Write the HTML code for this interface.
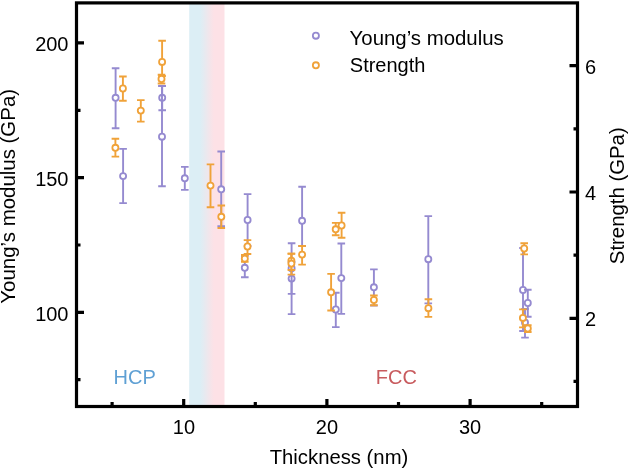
<!DOCTYPE html>
<html><head><meta charset="utf-8"><style>
html,body{margin:0;padding:0;background:#fff;}
body{width:628px;height:469px;overflow:hidden;font-family:"Liberation Sans",sans-serif;}
svg{display:block;will-change:transform;}
</style></head><body>
<svg width="628" height="469" viewBox="0 0 628 469">
<defs><linearGradient id="g" x1="0" x2="1" y1="0" y2="0">
<stop offset="0" stop-color="#dceef5"/><stop offset="0.31" stop-color="#dceef5"/>
<stop offset="0.70" stop-color="#fde1e6"/><stop offset="1" stop-color="#fde1e6"/></linearGradient></defs>
<rect x="189.2" y="2.9" width="35.3" height="403.6" fill="url(#g)"/>
<path d="M111.8 68.3H119.4M115.6 68.3V128.2M111.8 128.2H119.4" stroke="#958ad0" stroke-width="1.9" fill="none"/>
<circle cx="115.6" cy="97.8" r="3.05" stroke="#958ad0" stroke-width="1.8" fill="#fff"/>
<path d="M119.3 148.9H126.9M123.1 148.9V203.1M119.3 203.1H126.9" stroke="#958ad0" stroke-width="1.9" fill="none"/>
<circle cx="123.1" cy="176.1" r="3.05" stroke="#958ad0" stroke-width="1.8" fill="#fff"/>
<path d="M158.4 86.0H166.0M162.2 86.0V110.2M158.4 110.2H166.0" stroke="#958ad0" stroke-width="1.9" fill="none"/>
<circle cx="162.2" cy="97.8" r="3.05" stroke="#958ad0" stroke-width="1.8" fill="#fff"/>
<path d="M158.2 86.0H165.8M162.0 86.0V186.2M158.2 186.2H165.8" stroke="#958ad0" stroke-width="1.9" fill="none"/>
<circle cx="162.0" cy="136.7" r="3.05" stroke="#958ad0" stroke-width="1.8" fill="#fff"/>
<path d="M181.0 166.9H188.6M184.8 166.9V189.9M181.0 189.9H188.6" stroke="#958ad0" stroke-width="1.9" fill="none"/>
<circle cx="184.8" cy="178.3" r="3.05" stroke="#958ad0" stroke-width="1.8" fill="#fff"/>
<path d="M217.4 151.5H225.0M221.2 151.5V226.2M217.4 226.2H225.0" stroke="#958ad0" stroke-width="1.9" fill="none"/>
<circle cx="221.2" cy="189.3" r="3.05" stroke="#958ad0" stroke-width="1.8" fill="#fff"/>
<path d="M243.8 194.1H251.4M247.6 194.1V246.0M243.8 246.0H251.4" stroke="#958ad0" stroke-width="1.9" fill="none"/>
<circle cx="247.6" cy="220.0" r="3.05" stroke="#958ad0" stroke-width="1.8" fill="#fff"/>
<path d="M241.0 256.0H248.6M244.8 256.0V277.3M241.0 277.3H248.6" stroke="#958ad0" stroke-width="1.9" fill="none"/>
<circle cx="244.8" cy="267.8" r="3.05" stroke="#958ad0" stroke-width="1.8" fill="#fff"/>
<path d="M298.3 186.7H305.9M302.1 186.7V246.0M298.3 246.0H305.9" stroke="#958ad0" stroke-width="1.9" fill="none"/>
<circle cx="302.1" cy="220.8" r="3.05" stroke="#958ad0" stroke-width="1.8" fill="#fff"/>
<path d="M287.8 262.0H295.4M291.6 262.0V314.1M287.8 314.1H295.4" stroke="#958ad0" stroke-width="1.9" fill="none"/>
<circle cx="291.6" cy="278.6" r="3.05" stroke="#958ad0" stroke-width="1.8" fill="#fff"/>
<path d="M287.8 243.2H295.4M291.6 243.2V293.9M287.8 293.9H295.4" stroke="#958ad0" stroke-width="1.9" fill="none"/>
<circle cx="291.6" cy="268.3" r="3.05" stroke="#958ad0" stroke-width="1.8" fill="#fff"/>
<path d="M337.5 243.5H345.1M341.3 243.5V313.9M337.5 313.9H345.1" stroke="#958ad0" stroke-width="1.9" fill="none"/>
<circle cx="341.3" cy="278.1" r="3.05" stroke="#958ad0" stroke-width="1.8" fill="#fff"/>
<path d="M332.0 292.7H339.6M335.8 292.7V327.1M332.0 327.1H339.6" stroke="#958ad0" stroke-width="1.9" fill="none"/>
<circle cx="335.8" cy="309.5" r="3.05" stroke="#958ad0" stroke-width="1.8" fill="#fff"/>
<path d="M370.1 269.4H377.7M373.9 269.4V305.5M370.1 305.5H377.7" stroke="#958ad0" stroke-width="1.9" fill="none"/>
<circle cx="373.9" cy="287.3" r="3.05" stroke="#958ad0" stroke-width="1.8" fill="#fff"/>
<path d="M424.5 216.1H432.1M428.3 216.1V303.4M424.5 303.4H432.1" stroke="#958ad0" stroke-width="1.9" fill="none"/>
<circle cx="428.3" cy="259.2" r="3.05" stroke="#958ad0" stroke-width="1.8" fill="#fff"/>
<path d="M519.2 248.0H526.8M523.0 248.0V331.0M519.2 331.0H526.8" stroke="#958ad0" stroke-width="1.9" fill="none"/>
<circle cx="523.0" cy="290.0" r="3.05" stroke="#958ad0" stroke-width="1.8" fill="#fff"/>
<path d="M524.0 289.8H531.6M527.8 289.8V316.8M524.0 316.8H531.6" stroke="#958ad0" stroke-width="1.9" fill="none"/>
<circle cx="527.8" cy="303.0" r="3.05" stroke="#958ad0" stroke-width="1.8" fill="#fff"/>
<path d="M521.2 309.0H528.8M525.0 309.0V337.6M521.2 337.6H528.8" stroke="#958ad0" stroke-width="1.9" fill="none"/>
<circle cx="525.0" cy="322.5" r="3.05" stroke="#958ad0" stroke-width="1.8" fill="#fff"/>
<path d="M119.1 76.5H126.7M122.9 76.5V100.7M119.1 100.7H126.7" stroke="#f0a239" stroke-width="1.9" fill="none"/>
<circle cx="122.9" cy="88.5" r="3.05" stroke="#f0a239" stroke-width="1.8" fill="#fff"/>
<path d="M137.0 100.1H144.6M140.8 100.1V121.6M137.0 121.6H144.6" stroke="#f0a239" stroke-width="1.9" fill="none"/>
<circle cx="140.8" cy="110.6" r="3.05" stroke="#f0a239" stroke-width="1.8" fill="#fff"/>
<path d="M111.6 138.7H119.2M115.4 138.7V156.6M111.6 156.6H119.2" stroke="#f0a239" stroke-width="1.9" fill="none"/>
<circle cx="115.4" cy="147.8" r="3.05" stroke="#f0a239" stroke-width="1.8" fill="#fff"/>
<path d="M158.3 40.8H165.9M162.1 40.8V76.0M158.3 76.0H165.9" stroke="#f0a239" stroke-width="1.9" fill="none"/>
<circle cx="162.1" cy="61.9" r="3.05" stroke="#f0a239" stroke-width="1.8" fill="#fff"/>
<path d="M157.7 74.7H165.3M161.5 74.7V83.5M157.7 83.5H165.3" stroke="#f0a239" stroke-width="1.9" fill="none"/>
<circle cx="161.5" cy="79.0" r="3.05" stroke="#f0a239" stroke-width="1.8" fill="#fff"/>
<path d="M206.7 164.4H214.3M210.5 164.4V207.3M206.7 207.3H214.3" stroke="#f0a239" stroke-width="1.9" fill="none"/>
<circle cx="210.5" cy="185.6" r="3.05" stroke="#f0a239" stroke-width="1.8" fill="#fff"/>
<path d="M217.5 205.5H225.1M221.3 205.5V228.0M217.5 228.0H225.1" stroke="#f0a239" stroke-width="1.9" fill="none"/>
<circle cx="221.3" cy="216.8" r="3.05" stroke="#f0a239" stroke-width="1.8" fill="#fff"/>
<path d="M243.7 240.1H251.3M247.5 240.1V254.0M243.7 254.0H251.3" stroke="#f0a239" stroke-width="1.9" fill="none"/>
<circle cx="247.5" cy="246.5" r="3.05" stroke="#f0a239" stroke-width="1.8" fill="#fff"/>
<path d="M241.0 255.0H248.6M244.8 255.0V261.9M241.0 261.9H248.6" stroke="#f0a239" stroke-width="1.9" fill="none"/>
<circle cx="244.8" cy="258.7" r="3.05" stroke="#f0a239" stroke-width="1.8" fill="#fff"/>
<path d="M298.3 246.0H305.9M302.1 246.0V264.6M298.3 264.6H305.9" stroke="#f0a239" stroke-width="1.9" fill="none"/>
<circle cx="302.1" cy="254.6" r="3.05" stroke="#f0a239" stroke-width="1.8" fill="#fff"/>
<path d="M287.6 253.6H295.2M291.4 253.6V270.0M287.6 270.0H295.2" stroke="#f0a239" stroke-width="1.9" fill="none"/>
<circle cx="291.4" cy="260.6" r="3.05" stroke="#f0a239" stroke-width="1.8" fill="#fff"/>
<path d="M287.6 253.8H295.2M291.4 253.8V274.6M287.6 274.6H295.2" stroke="#f0a239" stroke-width="1.9" fill="none"/>
<circle cx="291.4" cy="263.6" r="3.05" stroke="#f0a239" stroke-width="1.8" fill="#fff"/>
<path d="M337.8 212.8H345.4M341.6 212.8V237.8M337.8 237.8H345.4" stroke="#f0a239" stroke-width="1.9" fill="none"/>
<circle cx="341.6" cy="225.5" r="3.05" stroke="#f0a239" stroke-width="1.8" fill="#fff"/>
<path d="M331.9 222.9H339.5M335.7 222.9V235.3M331.9 235.3H339.5" stroke="#f0a239" stroke-width="1.9" fill="none"/>
<circle cx="335.7" cy="229.3" r="3.05" stroke="#f0a239" stroke-width="1.8" fill="#fff"/>
<path d="M327.3 273.9H334.9M331.1 273.9V310.5M327.3 310.5H334.9" stroke="#f0a239" stroke-width="1.9" fill="none"/>
<circle cx="331.1" cy="292.3" r="3.05" stroke="#f0a239" stroke-width="1.8" fill="#fff"/>
<path d="M370.1 295.5H377.7M373.9 295.5V305.2M370.1 305.2H377.7" stroke="#f0a239" stroke-width="1.9" fill="none"/>
<circle cx="373.9" cy="300.0" r="3.05" stroke="#f0a239" stroke-width="1.8" fill="#fff"/>
<path d="M424.6 299.3H432.2M428.4 299.3V316.9M424.6 316.9H432.2" stroke="#f0a239" stroke-width="1.9" fill="none"/>
<circle cx="428.4" cy="308.2" r="3.05" stroke="#f0a239" stroke-width="1.8" fill="#fff"/>
<path d="M520.4 243.3H528.0M524.2 243.3V254.4M520.4 254.4H528.0" stroke="#f0a239" stroke-width="1.9" fill="none"/>
<circle cx="524.2" cy="248.5" r="3.05" stroke="#f0a239" stroke-width="1.8" fill="#fff"/>
<path d="M519.1 309.4H526.7M522.9 309.4V327.4M519.1 327.4H526.7" stroke="#f0a239" stroke-width="1.9" fill="none"/>
<circle cx="522.9" cy="317.9" r="3.05" stroke="#f0a239" stroke-width="1.8" fill="#fff"/>
<path d="M524.0 325.2H531.6M527.8 325.2V332.0M524.0 332.0H531.6" stroke="#f0a239" stroke-width="1.9" fill="none"/>
<circle cx="527.8" cy="328.5" r="3.05" stroke="#f0a239" stroke-width="1.8" fill="#fff"/>
<rect x="76.5" y="2.9" width="501.0" height="403.6" fill="none" stroke="#000" stroke-width="3.2"/>
<path d="M183.7 406.5V399.0 M326.9 406.5V399.0 M470.1 406.5V399.0 M112.1 406.5V402.0 M255.3 406.5V402.0 M398.5 406.5V402.0 M541.7 406.5V402.0 M76.5 312.3H84.0 M76.5 177.6H84.0 M76.5 42.9H84.0 M76.5 379.6H80.5 M76.5 245.0H80.5 M76.5 110.3H80.5 M577.5 318.3H569.5 M577.5 192.0H569.5 M577.5 65.7H569.5 M577.5 381.4H573.5 M577.5 255.2H573.5 M577.5 128.9H573.5" stroke="#000" stroke-width="3.2" fill="none"/>
<circle cx="315.9" cy="35.7" r="3.05" stroke="#958ad0" stroke-width="1.8" fill="#fff"/>
<circle cx="315.9" cy="65.3" r="3.05" stroke="#f0a239" stroke-width="1.8" fill="#fff"/>
<g font-family="Liberation Sans, sans-serif" font-size="20" fill="#000">
<text x="68.5" y="51.2" text-anchor="end">200</text>
<text x="68.5" y="186.1" text-anchor="end">150</text>
<text x="68.5" y="320.6" text-anchor="end">100</text>
<text x="183.9" y="433.9" text-anchor="middle">10</text>
<text x="326.9" y="433.9" text-anchor="middle">20</text>
<text x="470.0" y="433.9" text-anchor="middle">30</text>
<text x="585" y="73.8">6</text>
<text x="585" y="199.7">4</text>
<text x="585" y="326.3">2</text>
<text x="339" y="463.9" text-anchor="middle" font-size="20.3">Thickness (nm)</text>
<text x="349.6" y="44.5" font-size="20.4">Young’s modulus</text>
<text x="349.8" y="71.6">Strength</text>
<text transform="translate(15.3 196.3) rotate(-90)" text-anchor="middle" font-size="20.45">Young’s modulus (GPa)</text>
<text transform="translate(624.1 195.75) rotate(-90)" text-anchor="middle" font-size="20.35">Strength (GPa)</text>
<text x="113.5" y="384.1" fill="#5fa0d4">HCP</text>
<text x="375.8" y="384.3" fill="#c85b5e">FCC</text>
</g>
</svg>
</body></html>
